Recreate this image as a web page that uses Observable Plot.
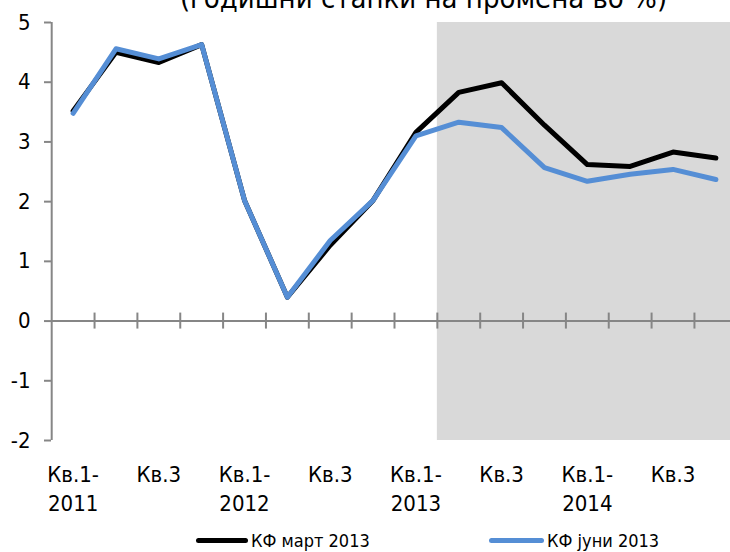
<!DOCTYPE html>
<html>
<head>
<meta charset="utf-8">
<script src="https://cdn.jsdelivr.net/npm/d3@7"></script>
<script src="https://cdn.jsdelivr.net/npm/@observablehq/plot@0.6"></script>
<style>
  html, body { margin: 0; padding: 0; background: #fff; }
  body { position: relative; width: 730px; height: 552px; overflow: hidden; font-family: "DejaVu Sans Condensed", "DejaVu Sans", sans-serif; font-stretch: condensed; }
  #title { position: absolute; top: -16px; left: 0; width: 847px; text-align: center; font-size: 29px; line-height: 29px; color: #000; white-space: nowrap; }
  #chart { position: absolute; top: 12px; left: 0; }
  #legend { position: absolute; top: 529px; left: 0; width: 730px; height: 23px; font-size: 18px; line-height: 23px; color: #000; }
  .item { position: absolute; top: 0; display: flex; align-items: center; height: 23px; white-space: nowrap; }
  .swatch { display: inline-block; height: 5px; border-radius: 3px; margin-right: 3px; }
</style>
</head>
<body>
<div id="title">(годишни стапки на промена во %)</div>
<div id="chart"></div>
<div id="legend"></div>
<script>
const quarters = ["Кв.1-2011","Кв.2-2011","Кв.3-2011","Кв.4-2011",
                  "Кв.1-2012","Кв.2-2012","Кв.3-2012","Кв.4-2012",
                  "Кв.1-2013","Кв.2-2013","Кв.3-2013","Кв.4-2013",
                  "Кв.1-2014","Кв.2-2014","Кв.3-2014","Кв.4-2014"];
const seriesNames = ["КФ март 2013", "КФ јуни 2013"];
const march2013 = [3.52, 4.50, 4.33, 4.63, 2.02, 0.40, 1.27, 2.02, 3.16, 3.83, 3.99, 3.28, 2.62, 2.59, 2.83, 2.73];
const june2013  = [3.48, 4.56, 4.39, 4.63, 2.02, 0.40, 1.35, 2.02, 3.10, 3.33, 3.24, 2.57, 2.34, 2.46, 2.54, 2.37];
const forecastStart = "Кв.2-2013";
const yTicks = [-2, -1, 0, 1, 2, 3, 4, 5];
const xTickLabels = ["Кв.1-\n2011","Кв.3","Кв.1-\n2012","Кв.3","Кв.1-\n2013","Кв.3","Кв.1-\n2014","Кв.3"];
const colors = ["#000000", "#558ED5"];

const n = quarters.length;
const idx = d3.range(n);
const data = seriesNames.flatMap((s, k) => idx.map(i => ({series: s, i, q: quarters[i], v: (k === 0 ? march2013 : june2013)[i]})));
const boundaries = d3.range(n).map(i => i + 0.5);
const labelIdx = xTickLabels.map((_, j) => j * 2);
const yMin = d3.min(yTicks), yMax = d3.max(yTicks);
const fIdx = quarters.indexOf(forecastStart);
const font = "DejaVu Sans Condensed, DejaVu Sans, sans-serif";
const gray = "#868686";

const plot = Plot.plot({
  width: 730,
  height: 512,
  marginTop: 10,
  marginBottom: 84,
  marginLeft: 51,
  marginRight: 0,
  style: {fontFamily: font, background: "transparent", overflow: "visible"},
  x: {type: "linear", domain: [-0.5, n - 0.5], range: [51.2, 736.8], axis: null},
  y: {domain: [yMin, yMax], axis: null},
  marks: [
    Plot.rect([{x1: fIdx - 0.5, x2: n - 0.5}], {x1: "x1", x2: "x2", y1: yMin, y2: yMax, fill: "#D9D9D9"}),
    Plot.ruleX([-0.5], {y1: yMin, y2: yMax, stroke: gray, strokeWidth: 2}),
    Plot.axisY({ticks: yTicks, label: null, tickSize: 7, tickPadding: 14, stroke: gray, strokeWidth: 2, fill: "#000", fontSize: 22, tickFormat: d => d}),
    Plot.ruleY([0], {stroke: gray, strokeWidth: 2}),
    Plot.ruleX(boundaries, {x: d => d, y1: 0, y2: 0, insetTop: -8, insetBottom: -8, stroke: gray, strokeWidth: 2}),
    Plot.text(labelIdx, {x: d => d, y: yMin, text: (d, j) => xTickLabels[j], dy: 20, lineAnchor: "top", lineHeight: 1.35, fontSize: 22, fill: "#000"}),
    Plot.line(data, {x: "i", y: "v", z: "series", stroke: "series", strokeWidth: 5, strokeLinejoin: "round", strokeLinecap: "round"})
  ],
  color: {domain: seriesNames, range: colors}
});
document.getElementById("chart").appendChild(plot);

const legend = document.getElementById("legend");
const legendPos = [{x: 196, w: 52}, {x: 489, w: 55}];
seriesNames.forEach((s, k) => {
  const item = document.createElement("div");
  item.className = "item";
  item.style.left = legendPos[k].x + "px";
  const sw = document.createElement("span");
  sw.className = "swatch";
  sw.style.width = legendPos[k].w + "px";
  sw.style.background = colors[k];
  item.appendChild(sw);
  item.appendChild(document.createTextNode(s));
  legend.appendChild(item);
});
</script>
</body>
</html>
